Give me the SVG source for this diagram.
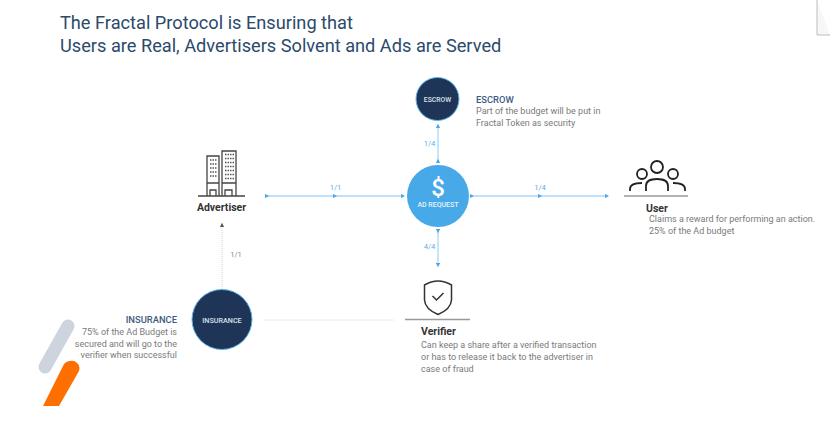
<svg xmlns="http://www.w3.org/2000/svg" width="830" height="442" viewBox="0 0 830 442">
<style>
text{font-family:Roboto,"Liberation Sans",sans-serif}
.title{font-size:18.2px;fill:#2b4a6c}
.head{font-size:9.4px;fill:#3d5a82;font-weight:500}
.body{font-size:9px;fill:#7a7a7a}
.name{font-size:10.5px;fill:#333;font-weight:700}
.in{fill:#d9e3ee;font-weight:500;text-anchor:middle}
.blue{font-size:7.6px;fill:#5aaeea;text-anchor:middle}
.grey{font-size:7.6px;fill:#8a8a8a;text-anchor:middle}
.ln{stroke:#a9d8f6;stroke-width:1.3;fill:none}
.dot{stroke:#d4d4d4;stroke-width:1;stroke-dasharray:1 1;fill:none}
.icon{fill:none;stroke:#444;stroke-width:1.3}
.dark{fill:none;stroke:#222;stroke-width:1.8}
.shield{fill:none;stroke:#333;stroke-width:1.5}
.rule{stroke:#999;stroke-width:1.4;fill:none}
</style>
<defs>
<marker id="a" viewBox="0 0 6 6" refX="3" refY="3" markerWidth="4.4" markerHeight="4.4" markerUnits="userSpaceOnUse" orient="auto"><path d="M0 0L6 3L0 6Z" fill="#4aa8e8"/></marker>
<marker id="g" viewBox="0 0 6 6" refX="3" refY="3" markerWidth="4.4" markerHeight="4.4" markerUnits="userSpaceOnUse" orient="auto"><path d="M0 0L6 3L0 6Z" fill="#555"/></marker>
</defs>
<rect width="830" height="442" fill="#fff"/>
<path d="M817 0V35H830" fill="#f6f7f9" stroke="#bdbdbd" stroke-width="1"/>
<g id="title"><text class="title" x="60" y="29">The Fractal Protocol is Ensuring that</text><text class="title" x="60" y="52">Users are Real, Advertisers Solvent and Ads are Served</text></g>
<g id="logo"><path d="M68 326L45 367" stroke="#cdd4dd" stroke-width="13" stroke-linecap="round" fill="none"/><path d="M43 406L64 364Q68 360 74 361Q81 364 79 371L59 406Z" fill="#ff6f00"/></g>
<g id="connectors">
<path class="ln" d="M438 161V126" marker-start="url(#a)" marker-end="url(#a)"/>
<path class="ln" d="M472 196H540H607" marker-start="url(#a)" marker-mid="url(#a)" marker-end="url(#a)"/>
<path class="ln" d="M267 196H335H403" marker-start="url(#a)" marker-mid="url(#a)" marker-end="url(#a)"/>
<path class="ln" d="M438 231V265" marker-start="url(#a)" marker-end="url(#a)"/>
<path class="dot" d="M222 289V225" marker-end="url(#g)"/>
<path class="dot" d="M265 320H395"/>
<text class="blue" x="429.500" y="146">1/4</text>
<text class="blue" x="540" y="190">1/4</text>
<text class="blue" x="335.500" y="190">1/1</text>
<text class="blue" x="429.500" y="249">4/4</text>
<text class="grey" x="236" y="256.500">1/1</text>
</g>
<g id="escrow"><circle cx="437.500" cy="99" r="21.500" fill="#1f3557" stroke="#5fb4ea" stroke-width="1"/><text class="in" x="437.500" y="101.500" font-size="6.800">ESCROW</text>
<text class="head" x="476" y="102.500">ESCROW</text><text class="body" x="476" y="114">Part of the budget will be put in</text><text class="body" x="476" y="125.500">Fractal Token as security</text></g>
<g id="adrequest"><circle cx="438" cy="196" r="31" fill="#47a9e8"/><text x="438" y="195.500" text-anchor="middle" font-size="24" font-weight="500" fill="#fff">$</text><text class="in" x="438" y="207" font-size="7" style="fill:#e6f3fc">AD REQUEST</text></g>
<g id="advertiser">
<path class="icon" d="M198 196H245M207 196V156H219V196M222 196V151H236V196M207 183H219M222 183H236M210 196V190H216V196M225 196V190H232V196"/>
<path d="M210 160H217M210 164H217M210 168H217M210 172H217M210 176H217M225 154.500H234M225 158.500H234M225 162.500H234M225 166.500H234M225 170.500H234M225 174.500H234M225 178.500H234" stroke="#555" stroke-width="1.500" stroke-dasharray="1.500 1" fill="none"/>
<text class="name" x="221.500" y="211" text-anchor="middle">Advertiser</text></g>
<g id="user">
<circle class="dark" cx="657" cy="167" r="6"/>
<circle class="dark" cx="642" cy="174" r="5"/>
<circle class="dark" cx="673" cy="174" r="5"/>
<path class="dark" d="M630 191V189Q630 183 642 183M646 191V186Q646 179 657 179Q668 179 668 186V191M685 191V189Q685 183 673 183"/>
<path class="rule" d="M624 196H688"/>
<text class="name" x="646" y="211.500">User</text>
<text class="body" x="649" y="222">Claims a reward for performing an action.</text><text class="body" x="649" y="234">25% of the Ad budget</text></g>
<g id="verifier">
<path class="shield" d="M424.500 285Q438 277 451.500 285V300Q451 309 438 314.500Q425 309 424.500 300Z"/>
<path class="shield" d="M432.500 296L436.500 300L443.500 293"/>
<path class="rule" d="M405 319.500H470"/>
<text class="name" x="421" y="335">Verifier</text>
<text class="body" x="421" y="348">Can keep a share after a verified transaction</text><text class="body" x="421" y="360">or has to release it back to the advertiser in</text><text class="body" x="421" y="371.500">case of fraud</text></g>
<g id="insurance"><circle cx="222" cy="319.500" r="30" fill="#1f3557" stroke="#5fb4ea" stroke-width="1"/><text class="in" x="222" y="322.500" font-size="7.200">INSURANCE</text>
<text class="head" x="177" y="323" text-anchor="end">INSURANCE</text><text class="body" x="177" y="335" text-anchor="end">75% of the Ad Budget is</text><text class="body" x="177" y="346.500" text-anchor="end">secured and will go to the</text><text class="body" x="177" y="358" text-anchor="end">verifier when successful</text></g>
</svg>
